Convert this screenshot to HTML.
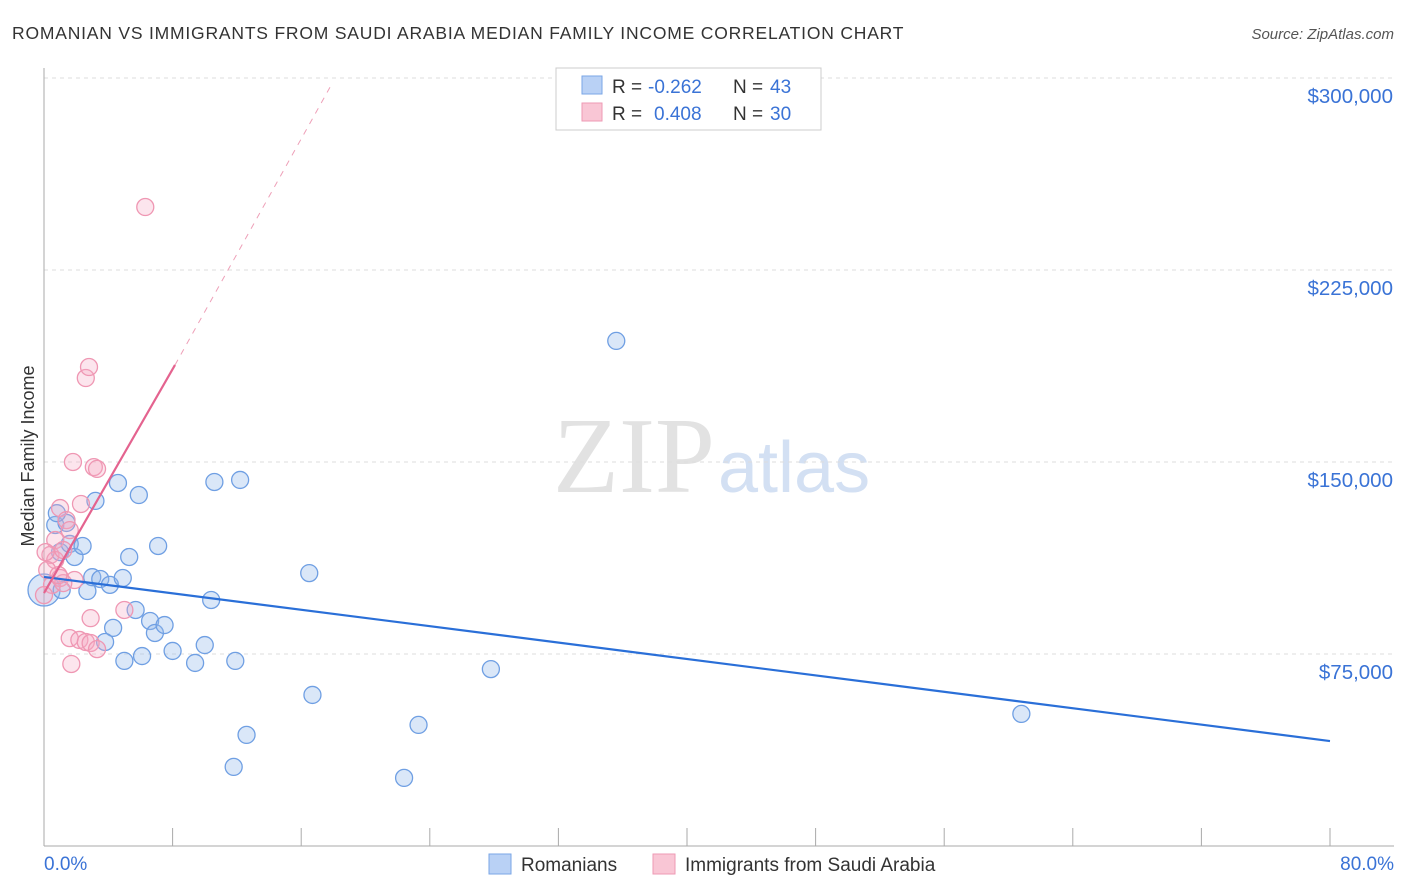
<!DOCTYPE html>
<html><head><meta charset="utf-8"><style>
body{margin:0;background:#fff;font-family:"Liberation Sans",sans-serif}
</style></head><body>
<svg id="c" width="1406" height="892" style="display:block">
<text x="12" y="39" font-size="17.5" letter-spacing="0.8" fill="#333">ROMANIAN VS IMMIGRANTS FROM SAUDI ARABIA MEDIAN FAMILY INCOME CORRELATION CHART</text>
<text x="1394" y="39" font-size="15" fill="#555" font-style="italic" text-anchor="end">Source: ZipAtlas.com</text>
<text x="715" y="492" font-size="108" fill="#e2e2e2" text-anchor="end" font-family="Liberation Serif">ZIP</text>
<text x="718" y="492" font-size="72" fill="#d3e0f3">atlas</text>
<text transform="translate(34,456) rotate(-90)" font-size="18" fill="#333" text-anchor="middle">Median Family Income</text>
<g id="grid"></g><g id="ax"></g><g id="pts"></g><g id="lines"></g>
<g>
<rect x="556" y="68" width="265" height="62" fill="#fff" stroke="#ccc"/>
<rect x="582" y="76" width="20" height="18" fill="#b9d1f5" stroke="#7aa6e6"/>
<text x="612" y="93" font-size="19" fill="#333">R =</text>
<text x="648" y="93" font-size="19" fill="#3a73d6">-0.262</text>
<text x="733" y="93" font-size="19" fill="#333">N =</text>
<text x="770" y="93" font-size="19" fill="#3a73d6">43</text>
<rect x="582" y="103" width="20" height="18" fill="#f9c6d5" stroke="#ee9ab4"/>
<text x="612" y="120" font-size="19" fill="#333">R =</text>
<text x="654" y="120" font-size="19" fill="#3a73d6">0.408</text>
<text x="733" y="120" font-size="19" fill="#333">N =</text>
<text x="770" y="120" font-size="19" fill="#3a73d6">30</text>
</g>
<g>
<rect x="489" y="854" width="22" height="20" fill="#b9d1f5" stroke="#7aa6e6"/>
<text x="521" y="871" font-size="19" fill="#333">Romanians</text>
<rect x="653" y="854" width="22" height="20" fill="#f9c6d5" stroke="#ee9ab4"/>
<text x="685" y="871" font-size="19" fill="#333">Immigrants from Saudi Arabia</text>
</g>
</svg>
<script>
const yTicks=[75000,150000,225000,300000];
const yTickLabels=["$75,000","$150,000","$225,000","$300,000"];
const xTickLabels=["0.0%","80.0%"];
const blueX=[0,0.7,1.0,1.4,1.6,1.9,2.4,2.7,3.0,3.2,3.5,4.1,4.6,4.9,5.0,5.3,5.7,5.9,6.1,6.6,6.9,7.1,7.5,8.0,4.3,3.8,9.4,10.0,10.4,10.6,11.8,11.9,12.2,12.6,16.5,16.7,22.4,23.3,27.8,35.6,60.8,0.8,1.1];
const blueY=[100,125.4,114.8,126.2,118,112.9,117.2,99.6,105,134.8,104.3,102,141.8,104.7,72.3,112.9,92.2,137.1,74.2,87.9,83.2,117.2,86.3,76.2,85.2,79.7,71.5,78.5,96.1,142.2,30.9,72.3,143,43.4,106.6,59,26.6,47.3,69.1,197.3,51.6,130,100];
const pinkX=[6.3,2.6,2.8,1.8,3.1,3.3,1.0,2.3,1.4,1.6,0.4,0.7,0.2,0.5,0,1.0,1.9,1.2,2.9,5.0,1.6,2.2,2.6,2.9,3.3,1.7,0.7,1.2,0.1,0.9];
const pinkY=[249.6,182.8,187.1,150,148,147.3,132,133.6,127.3,123.4,113.7,111.7,107.8,102,98,104.7,103.9,102.7,89,92.2,81.2,80.5,79.7,79.3,76.9,71.1,119.5,115.6,114.8,105.8];
const blueTrend=[[0,105.1],[80,41]];
const pinkTrend=[[0,98.8],[8.15,187.9]];
const pinkDash=[[8.15,187.9],[17.9,297.6]];
const X=v=>44+v/80*1286, Y=v=>846-v/75000*192;
const ns="http://www.w3.org/2000/svg";
function mk(p,t,a){const e=document.createElementNS(ns,t);for(const k in a)e.setAttribute(k,a[k]);document.getElementById(p).appendChild(e);return e;}
yTicks.forEach((t,i)=>{
 const l=mk('grid','line',{x1:44,x2:1394,y1:Y(t),y2:Y(t),stroke:'#ddd','stroke-dasharray':'4,4'});
 
 
 const tx=mk('ax','text',{x:1393,y:Y(t)+25,'font-size':20.5,fill:'#3a73d6','text-anchor':'end'});tx.textContent=yTickLabels[i];
 
 
});
mk('ax','line',{x1:44,x2:44,y1:68,y2:846,stroke:'#aaa'});
mk('ax','line',{x1:44,x2:1394,y1:846,y2:846,stroke:'#aaa'});
for(let i=0;i<=10;i++){const x=X(i*8);const t=mk('ax','line',{x1:x,x2:x,y1:828,y2:846,stroke:'#aaa'});}
[[0,'start',44],[1,'end',1394]].forEach(([i,a,x])=>{const t=mk('ax','text',{x:x,y:870,'font-size':19,fill:'#3a73d6','text-anchor':a});t.textContent=xTickLabels[i];
 
 });
blueX.forEach((v,i)=>{const c=mk('pts','circle',{cx:X(v),cy:Y(blueY[i]*1000),r:i==0?16:8.5,fill:'rgba(150,185,235,0.35)',stroke:'#6f9fe3','stroke-width':1.3});
 
 });
pinkX.forEach((v,i)=>{const c=mk('pts','circle',{cx:X(v),cy:Y(pinkY[i]*1000),r:8.5,fill:'rgba(245,170,195,0.3)',stroke:'#ef97b3','stroke-width':1.3});
 
 });
function ln(d,col,w,dash,name){const l=mk('lines','line',{x1:X(d[0][0]),y1:Y(d[0][1]*1000),x2:X(d[1][0]),y2:Y(d[1][1]*1000),stroke:col,'stroke-width':w});if(dash)l.setAttribute('stroke-dasharray',dash);
 
 }
ln(blueTrend,'#2a6fd8',2.2,null,'romanians-trend-line');
ln(pinkTrend,'#e4638f',2.2,null,'saudi-trend-line');
ln(pinkDash,'#eea0b8',1,'6,6','saudi-trend-extension');
</script>
</body></html>
